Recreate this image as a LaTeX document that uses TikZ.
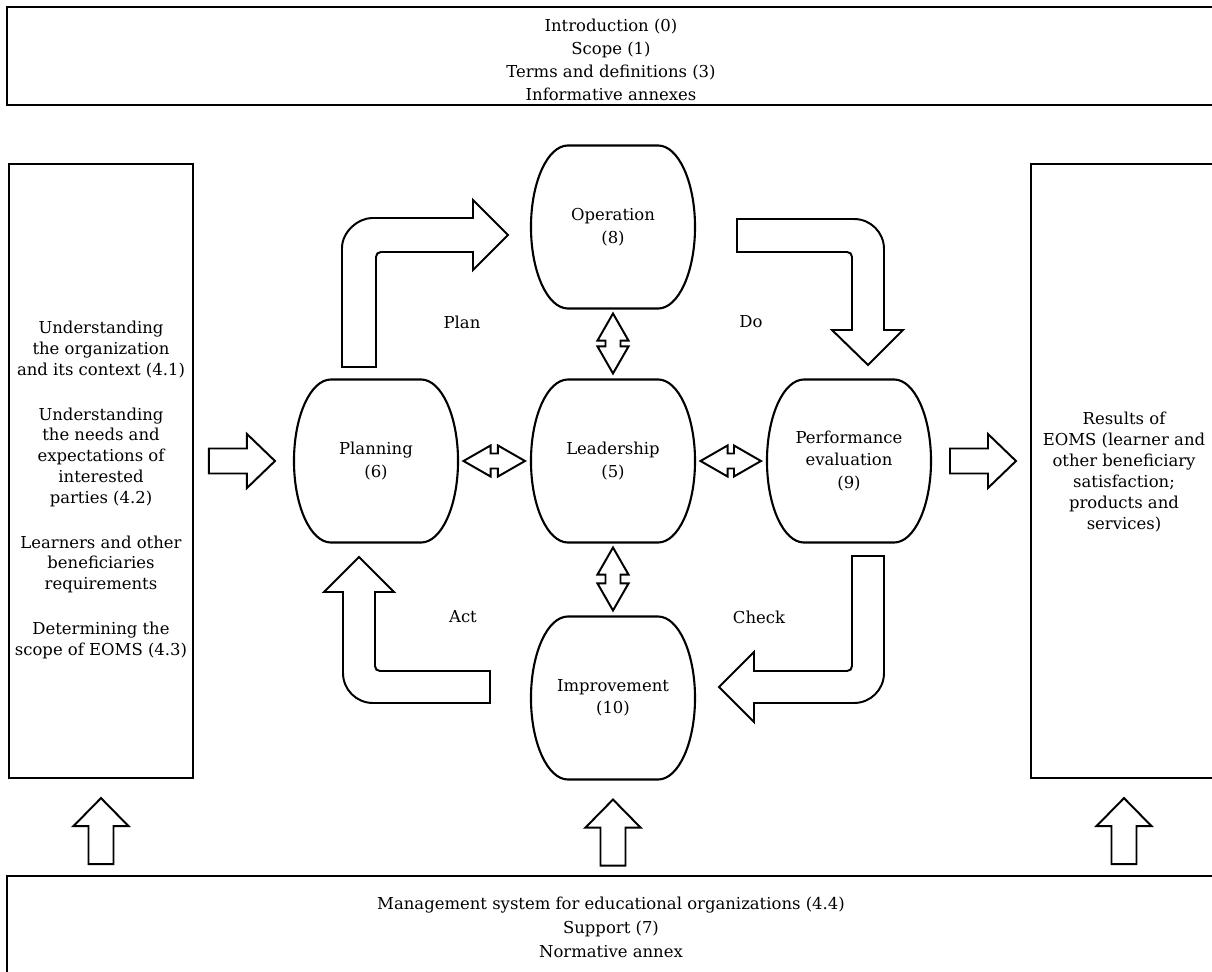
\documentclass[tikz,border=0pt]{standalone}
\usepackage{fontspec}
\setmainfont{DejaVu Serif}
\usepackage{tikz}
\usetikzlibrary{calc}

\tikzset{
  phase/.style={rectangle, minimum width=4.1cm, minimum height=4.075cm, inner sep=0pt, outer sep=0pt, align=center, font=\fontsize{11.7}{16}\selectfont},
  barrel/.style={draw, line width=1.5pt},
  blockarrow/.style={draw, fill=white, line width=1.4pt, line join=miter},
  frame/.style={draw, line width=1.5pt, inner sep=0pt, outer sep=0pt},
  boxtext/.style={align=center, font=\fontsize{11.7}{14.8}\selectfont},
  lbl/.style={font=\fontsize{11.7}{14}\selectfont}
}

\begin{document}
\begin{tikzpicture}[x=0.025cm, y=-0.025cm]
		\useasboundingbox (0,0) rectangle (1212,972);
		\fill[white] (0,0) rectangle (1212,972);
		\clip (0,0) rectangle (1212,972);
		
		% frames round the cycle
		\node[frame, minimum width=30.2cm, minimum height=2.45cm] (intro) at (611,56) {};
		\node[frame, minimum width=4.6cm, minimum height=15.35cm] (context) at (101,471) {};
		\node[frame, minimum width=4.65cm, minimum height=15.35cm] (results) at (1124,471) {};
		\node[frame, minimum width=30.2cm, minimum height=3.1cm] (support) at (611,938) {};
		
		\node[align=center, font=\fontsize{11.7}{16.4}\selectfont] (introtext) at (611,60) {Introduction (0)\\Scope (1)\\Terms and definitions (3)\\Informative annexes};
		\node[boxtext] (contexttext) at (101,490) {Understanding\\the organization\\and its context (4.1)\\[17pt]Understanding\\the needs and\\expectations of\\interested\\parties (4.2)\\[17pt]Learners and other\\beneficiaries\\requirements\\[17pt]Determining the\\scope of EOMS (4.3)};
		\node[boxtext] (resultstext) at (1124,472) {Results of\\EOMS (learner and\\other beneficiary\\satisfaction;\\products and\\services)};
		\node[align=center, font=\fontsize{11.7}{17}\selectfont] (supporttext) at (611,927) {Management system for educational organizations (4.4)\\Support (7)\\Normative annex};
		
		% the five phases
		\node[phase] (oper) at (613,227) {Operation\\(8)};
		\node[phase] (plan) at (376,461) {Planning\\(6)};
		\node[phase] (lead) at (613,461) {Leadership\\(5)};
		\node[phase] (perf) at (849,461) {Performance\\evaluation\\(9)};
		\node[phase] (impr) at (613,698) {Improvement\\(10)};
		
		\foreach \n in {oper,plan,lead,perf,impr}{
			\draw[barrel] ($(\n.north west)+(37,0)$) -- ($(\n.north east)+(-37,0)$)
				.. controls +(20.4,0) and +(0,-45) .. (\n.east)
				.. controls +(0,45) and +(20.4,0) .. ($(\n.south east)+(-37,0)$)
				-- ($(\n.south west)+(37,0)$)
				.. controls +(-20.4,0) and +(0,45) .. (\n.west)
				.. controls +(0,-45) and +(-20.4,0) .. ($(\n.north west)+(37,0)$) -- cycle;
		}
		
		% PDCA arrows
		\draw[blockarrow] (342,367) -- (342,248) .. controls (342,231.4) and (358.6,218) .. (372,218) -- (473,218) -- (473,200) -- (508,235) -- (473,270) -- (473,252) -- (381,252) .. controls (378,252) and (376,254) .. (376,257) -- (376,367) -- cycle;
		\draw[blockarrow] (737,219) -- (854,219) .. controls (870.6,219) and (884,232.4) .. (884,249) -- (884,330) -- (903,330) -- (868,365) -- (832,330) -- (852,330) -- (852,257) .. controls (852,254) and (850,252) .. (847,252) -- (737,252) -- cycle;
		\draw[blockarrow] (852,556) -- (884,556) -- (884,673) .. controls (884,689.6) and (870.6,703) .. (854,703) -- (754,703) -- (754,722) -- (719,687) -- (754,652) -- (754,671) -- (847,671) .. controls (850,671) and (852,669) .. (852,666) -- cycle;
		\draw[blockarrow] (490,671) -- (380,671) .. controls (377,671) and (375,669) .. (375,666) -- (375,592) -- (394,592) -- (359,557) -- (324,592) -- (343,592) -- (343,673) .. controls (343,689.6) and (356.4,703) .. (373,703) -- (490,703) -- cycle;
		
		\node[lbl] (planlbl) at (462,322) {Plan};
		\node[lbl] (dolbl) at (751,322) {Do};
		\node[lbl] (actlbl) at (463,617) {Act};
		\node[lbl] (checklbl) at (759,617) {Check};
		
		% two-way arrows round leadership
		\foreach \a/\b in {plan/lead,lead/perf}{
			\path ($(\a.east)+(5.5,0)$) coordinate (l) ($(\b.west)+(-6,0)$) coordinate (r);
			\draw[blockarrow] (l) -- ++(27,-15.5) -- ++(0,8) -- ($(r)+(-27,-7.5)$) -- ++(0,-8) -- (r) -- ++(-27,15.5) -- ++(0,-8) -- ($(l)+(27,7.5)$) -- ++(0,8) -- cycle;
		}
		\foreach \a/\b in {oper/lead,lead/impr}{
			\path ($(\a.south)+(0,5)$) coordinate (t) ($(\b.north)+(0,-6)$) coordinate (b);
			\draw[blockarrow] (t) -- ++(15.5,27) -- ++(-8,0) -- ($(b)+(7.5,-27)$) -- ++(8,0) -- (b) -- ++(-15.5,-27) -- ++(8,0) -- ($(t)+(-7.5,27)$) -- ++(-8,0) -- cycle;
		}
		
		% in and out
		\path ($(plan.west)+(-19,0)$) coordinate (tipin);
		\path (results.west |- perf.east) ++(-15,0) coordinate (tipout);
		\foreach \p in {tipin,tipout}{
			\draw[blockarrow] (\p) -- ++(-28,-27) -- ++(0,14.5) -- ++(-38,0) -- ++(0,25) -- ++(38,0) -- ++(0,14.5) -- cycle;
		}
		\foreach \t in {context,impr,results}{
			\path ($(\t.south)+(0,20)$) coordinate (tip);
			\draw[blockarrow] (tip) -- ++(27.5,28) -- ++(-15,0) -- ++(0,38) -- ++(-25,0) -- ++(0,-38) -- ++(-15,0) -- cycle;
		}
	\end{tikzpicture}
\end{document}
